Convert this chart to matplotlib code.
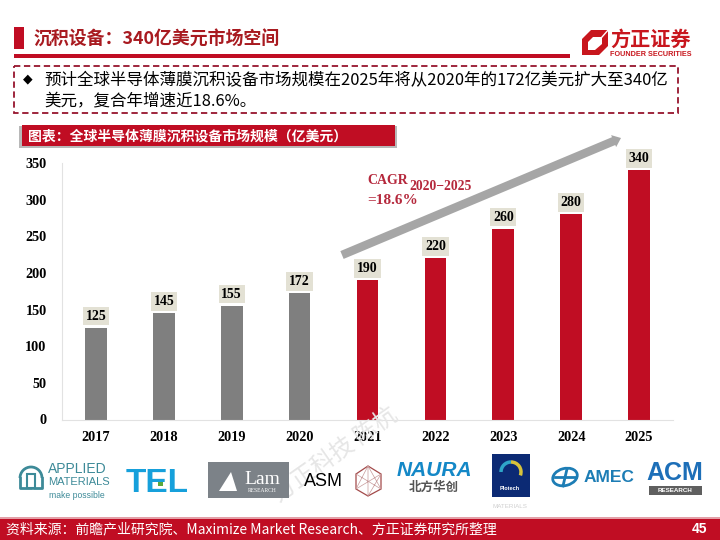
"""Slide: global thin-film deposition equipment market size, 2017-2025."""

import matplotlib
matplotlib.use("Agg")
import matplotlib.pyplot as plt
from matplotlib.patches import Rectangle, Polygon, FancyArrow, Ellipse, Arc

YEARS = ["2017", "2018", "2019", "2020", "2021", "2022", "2023", "2024", "2025"]
VALUES = [125, 145, 155, 172, 190, 220, 260, 280, 340]
BAR_COLORS = ["#7f7f7f"] * 4 + ["#c00d23"] * 5
Y_TICKS = [0, 50, 100, 150, 200, 250, 300, 350]

RED = "#c00d23"
CJK = ["Noto Sans CJK SC", "DejaVu Sans"]
SERIF = "Liberation Serif"
SANS = "Liberation Sans"

plt.rcParams["font.family"] = CJK

fig = plt.figure(figsize=(7.2, 5.4), dpi=100)

# --- Bar chart ---
ax = fig.add_axes([62 / 720, 1 - 419.5 / 540, 611 / 720, 256.5 / 540])
ax.bar(range(len(VALUES)), VALUES, width=0.32, color=BAR_COLORS, zorder=2)
ax.set_xlim(-0.5, 8.5)
ax.set_ylim(0, 350)
ax.set_xticks(range(len(YEARS)))
ax.set_xticklabels(YEARS, family=SERIF, fontweight="bold", fontsize=10.3)
ax.set_yticks(Y_TICKS)
ax.set_yticklabels([str(v) for v in Y_TICKS], family=SERIF, fontweight="bold", fontsize=10.3)
ax.tick_params(length=0, pad=8, axis="x")
ax.tick_params(length=0, pad=11, axis="y")
for side in ["top", "right"]:
    ax.spines[side].set_visible(False)
ax.spines["left"].set_color("#e2e2e2")
ax.spines["bottom"].set_color("#e2e2e2")
for x, v in zip(range(len(VALUES)), VALUES):
    ax.annotate(str(v), (x, v), xytext=(0, 8.5), textcoords="offset points",
                ha="center", va="center", family=SERIF, fontweight="bold", fontsize=10,
                bbox=dict(boxstyle="square,pad=0.2", fc="#e3e1d4", ec="none"), zorder=4)

# --- Slide furniture, drawn in pixel coordinates ---
ov = fig.add_axes([0, 0, 1, 1], zorder=5)
ov.set_xlim(0, 720)
ov.set_ylim(540, 0)
ov.axis("off")
ov.patch.set_alpha(0)

# header
ov.add_patch(Rectangle((14, 27), 10, 22, fc=RED, ec="none"))
ov.add_patch(Rectangle((14, 54), 556, 4, fc=RED, ec="none"))
ov.text(33, 39.5, "沉积设备：340亿美元市场空间", fontsize=12.9, fontweight="bold",
        color="#a81a20", va="center")

# logo
ov.add_patch(Polygon([(591, 30), (608, 30), (608, 46), (599, 55), (582, 55), (582, 39)],
                     fc="#c8161d", ec="none"))
ov.add_patch(Polygon([(593, 37), (602, 37), (602, 44), (595, 50), (588, 50), (588, 42)],
                     fc="white", ec="none"))
ov.plot([609, 602], [29, 37], color="white", lw=1)
ov.text(651, 39.5, "方正证券", fontsize=14.5, fontweight="bold", color="#c8161d",
        ha="center", va="center")
ov.text(651, 55, "FOUNDER SECURITIES", fontsize=5.2, fontweight="bold", color="#c8161d",
        ha="center", va="center", family=SANS)

# summary box
ov.add_patch(Rectangle((14, 66), 664, 47, fc="none", ec="#96152d", lw=1.3,
                       ls=(0, (3.5, 2))))
ov.text(23, 79, "◆", fontsize=9, ha="left", va="center", family="DejaVu Sans")
ov.text(44, 80.5, "预计全球半导体薄膜沉积设备市场规模在2025年将从2020年的172亿美元扩大至340亿",
        fontsize=11.9, va="center")
ov.text(44, 101.5, "美元，复合年增速近18.6%。", fontsize=11.9, va="center")

# chart title banner, with a soft shadow
ov.add_patch(Rectangle((19, 126), 378, 22, fc="#b8b8b8", ec="none"))
ov.add_patch(Rectangle((22, 125), 373, 21, fc=RED, ec="none"))
ov.text(28, 137, "图表：全球半导体薄膜沉积设备市场规模（亿美元）", fontsize=10,
        fontweight="bold", color="white", va="center")

# growth arrow and CAGR label
ov.add_patch(FancyArrow(342, 255, 279, -117, width=8.5, head_width=13, head_length=8,
                        length_includes_head=True, fc="#a6a6a6", ec="none"))
ov.text(367, 181, "CAGR", family=SERIF, fontweight="bold", fontsize=10, color="#b5283c",
        va="center")
ov.text(409, 186, "2020−2025", family=SERIF, fontweight="bold", fontsize=9.8, color="#b5283c",
        va="center")
ov.text(367, 201, "=18.6%", family=SERIF, fontweight="bold", fontsize=11, color="#b5283c",
        va="center")

# watermark
ov.text(335, 455, "方正科技 陈杭", fontsize=17, color="#e6e6e6", rotation=35,
        ha="center", va="center", zorder=0)

# company logos
ov.text(48, 469, "APPLIED", family=SANS, fontsize=10, color="#3d8a98", va="center")
ov.text(48, 482, "MATERIALS", family=SANS, fontsize=8, color="#3d8a98", va="center")
ov.text(77, 496, "make possible", family=SANS, fontsize=6.2, color="#3d8a98",
        ha="center", va="center")
ov.add_patch(Arc((31, 478), 22, 22, theta1=180, theta2=360, ec="#3d8a98", lw=2))
ov.plot([20, 20, 31], [478, 488, 488], color="#3d8a98", lw=2)
ov.plot([42, 42, 34], [478, 488, 488], color="#3d8a98", lw=2)
ov.add_patch(Rectangle((27, 474), 8, 14, fc="none", ec="#3d8a98", lw=1.5))
ov.text(157, 484, "TEL", family=SANS, fontweight="bold", fontsize=24,
        color="#16a0db", ha="center", va="center")
ov.add_patch(Rectangle((158, 481), 5, 5, fc="#5aa83c", ec="none"))
ov.add_patch(Rectangle((208, 462), 81, 36, fc="#7c8288", ec="none"))
ov.add_patch(Polygon([(219, 491), (231, 472), (237, 491)], fc="white", ec="none"))
ov.text(262, 479, "Lam", family=SERIF, fontsize=14, color="white", ha="center", va="center")
ov.text(262, 490, "RESEARCH", family=SERIF, fontsize=4, color="white", ha="center", va="center")
ov.text(323, 482, "ASM", family=SANS, fontsize=13, ha="center", va="center")
ov.add_patch(Polygon([(368, 466), (381, 474), (381, 489), (368, 496), (356, 489), (356, 474)],
                     fc="none", ec="#a34a4a", lw=0.9))
ov.plot([356, 381, 368, 356, 381, 368, 368], [474, 489, 466, 489, 474, 496, 466],
        color="#c79a9a", lw=0.5)
ov.text(434, 471, "NAURA", family=SANS, fontweight="bold", fontstyle="italic",
        fontsize=15, color="#1488c7", ha="center", va="center")
ov.text(434, 487, "北方华创", fontsize=9, fontweight="bold", color="#555555",
        ha="center", va="center")
ov.add_patch(Rectangle((492, 454), 38, 43, fc="#0c2a74", ec="none"))
ov.text(510, 488, "Plotech", family=SANS, fontweight="bold", fontsize=4, color="white",
        ha="center", va="center")
ov.add_patch(Arc((511, 472), 20, 20, theta1=180, theta2=270, ec="#2fa6c9", lw=2.5))
ov.add_patch(Arc((511, 472), 20, 20, theta1=270, theta2=20, ec="#d7c33b", lw=2.5))
ov.text(510, 506, "MATERIALS", family=SANS, fontsize=4.5, color="#d0d0d0",
        ha="center", va="center")
ov.add_patch(Ellipse((565, 477), 25, 17, angle=-15, fc="none", ec="#1d7db5", lw=2))
ov.plot([555, 576], [477, 477], color="#1d7db5", lw=2)
ov.plot([567, 563], [469, 486], color="#1d7db5", lw=2)
ov.text(609, 477, "AMEC", family=SANS, fontweight="bold", fontsize=12.5,
        color="#1d7db5", ha="center", va="center")
ov.text(675, 473, "ACM", family=SANS, fontweight="bold", fontsize=18,
        color="#1d6fb8", ha="center", va="center")
ov.add_patch(Rectangle((649, 486), 53, 9, fc="#5f5f5f", ec="none"))
ov.text(675.5, 490.5, "RESEARCH", family=SANS, fontweight="bold", fontsize=4.5,
        color="white", ha="center", va="center")

# footer
ov.add_patch(Rectangle((0, 518), 720, 22, fc=RED, ec="none"))
ov.add_patch(Rectangle((0, 517), 720, 1.5, fc="#e4a0a8", ec="none"))
ov.text(6, 529.5, "资料来源：前瞻产业研究院、Maximize Market Research、方正证券研究所整理",
        fontsize=10, color="white", va="center")
ov.text(707, 529, "45", family=SANS, fontweight="bold", fontsize=10,
        color="white", ha="right", va="center")

fig.savefig("out.png", dpi=100)
